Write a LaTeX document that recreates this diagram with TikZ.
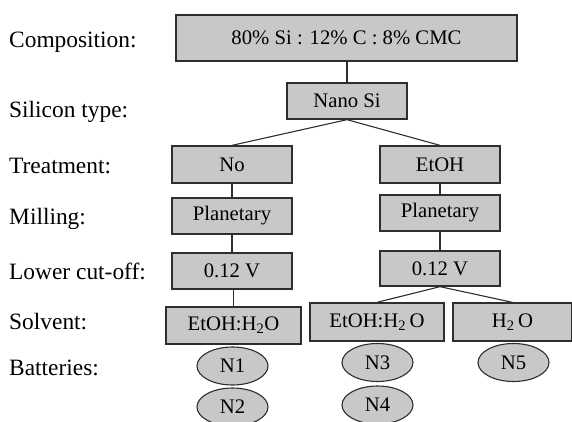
\documentclass[tikz,border=0pt]{standalone}
\usepackage{fontspec}
\setmainfont{Liberation Serif}
\usetikzlibrary{positioning,calc,shapes.geometric}
\definecolor{boxgray}{HTML}{C8C8C8}
\definecolor{edgegray}{HTML}{2E2E2E}

\begin{document}
\begin{tikzpicture}[x=1pt,y=-1pt, every node/.style={font=\fontsize{20.7}{24}\selectfont},
  lvl/.style={anchor=base west,inner sep=0pt,font=\fontsize{23.4}{28}\selectfont},
  box/.style={draw=edgegray,line width=1.3pt,fill=boxgray,inner sep=0pt},
  cell/.style={draw=edgegray,line width=1.1pt,fill=boxgray,ellipse,inner sep=0pt,minimum width=71pt,minimum height=38pt},
  link/.style={edgegray,line width=1.1pt}]
\useasboundingbox (0,0) rectangle (572,421);
% level labels
\node[lvl] (lcomp) at (9,47) {Composition:};
\node[lvl] (lsi) at (9,117) {Silicon type:};
\node[lvl] (ltreat) at (9,173) {Treatment:};
\node[lvl] (lmill) at (9,224) {Milling:};
\node[lvl] (lcut) at (9,279) {Lower cut-off:};
\node[lvl] (lsolv) at (9,329) {Solvent:};
\node[lvl] (lbat) at (9,375) {Batteries:};
% tree
\node[box,minimum width=341pt,minimum height=46pt] (comp) at (346.5,38) {80\% Si : 12\% C : 8\% CMC};
\node[box,minimum width=120pt,minimum height=36pt] (nano) at (347,101) {Nano Si};
\node[box,minimum width=120pt,minimum height=37pt] (no) at (232,164.5) {No};
\node[box,minimum width=120pt,minimum height=37pt] (etoh) at (440,164.5) {EtOH};
\node[box,minimum width=120pt,minimum height=36pt] (mill1) at (232,216) {Planetary};
\node[box,minimum width=120pt,minimum height=36pt] (mill2) at (440,213) {Planetary};
\node[box,minimum width=120pt,minimum height=36pt] (cut1) at (232,271) {0.12 V};
\node[box,minimum width=120pt,minimum height=35pt] (cut2) at (440,268.5) {0.12 V};
\node[box,minimum width=135pt,minimum height=37pt] (solv1) at (233.5,325.5) {EtOH:H\textsubscript{2}O};
\node[box,minimum width=134pt,minimum height=38pt] (solv2) at (377,322) {EtOH:H\textsubscript{2}\,O};
\node[box,minimum width=119pt,minimum height=38pt] (solv3) at (512.5,322) {H\textsubscript{2}\,O};
% batteries
\node[cell] (n1) at (232.5,366) {N1};
\node[cell] (n2) at (232.5,407) {N2};
\node[cell] (n3) at (377.5,362.5) {N3};
\node[cell] (n4) at (377.5,405) {N4};
\node[cell] (n5) at (513.5,362.5) {N5};
\foreach \a/\b in {comp/nano,no/mill1,mill1/cut1,cut1/solv1,etoh/mill2,mill2/cut2}
  \draw[link] (\b.north) -- (\b.north |- \a.south);
\foreach \a/\b in {nano/no,nano/etoh,cut2/solv2,cut2/solv3}
  \draw[link] (\a.south) -- (\b.north);
\end{tikzpicture}
\end{document}
